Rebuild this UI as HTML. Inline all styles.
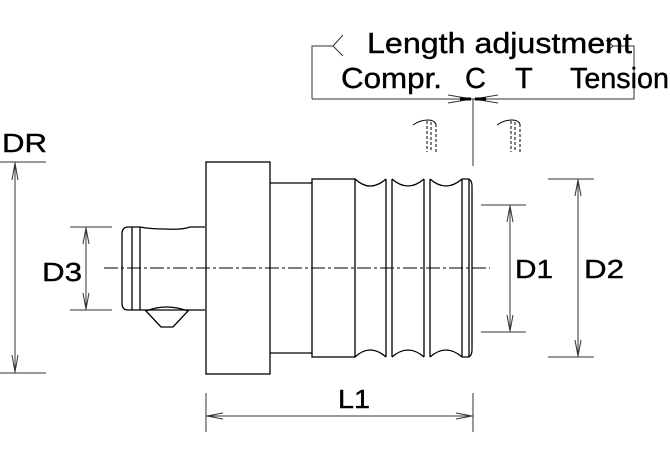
<!DOCTYPE html>
<html><head><meta charset="utf-8"><style>
html,body{margin:0;padding:0;background:#fff;}
svg{display:block;}
text{font-family:"Liberation Sans",Arial,sans-serif;fill:#000;stroke:#000;stroke-width:0.4;}
</style></head><body>
<svg width="670" height="460" viewBox="0 0 670 460" xmlns="http://www.w3.org/2000/svg">
<g fill="none" stroke="#000" stroke-width="1.3">
<rect x="206" y="162" width="64" height="212"/>
<path d="M270 183 H312 M270 353 H312"/>
<rect x="312" y="179" width="43" height="178"/>
<path d="M355 179 Q370 193 386 179 M392 179 Q408 193 424 179 M430 179 Q446 193 462 179"/>
<path d="M355 357 Q370 343 386 357 M392 357 Q408 343 424 357 M430 357 Q446 343 462 357"/>
<path d="M386 179 V357 M392 179 V357 M424 179 V357 M430 179 V357 M462 179 V357 M469 179 V357"/>
<path d="M462 179 H469 Q472 181 472 186 V350 Q472 355 469 357 H462"/>
<path d="M205 227 H190 Q182 230 165 229 Q150 229 140 227 H128 Q122 227 122 234 V303 Q122 310 128 310 H205"/>
<path d="M132 227 V310 M140 227 V310"/>
<path d="M146 311 Q166 303 188 311 L173 327 H161 Z"/>
</g>
<line x1="104" y1="268" x2="490" y2="268" stroke="#000" stroke-width="1" stroke-dasharray="14,3,3,3"/>
<g stroke="#333" stroke-width="1" fill="none">
<path d="M0 162 H46 M0 373 H46 M15 162 V373"/>
<path d="M12 180 L15 163 L18 180 M12 355 L15 372 L18 355"/>
<path d="M70 227 H112 M70 310 H112 M86 227 V310"/>
<path d="M83 244 L86 228 L89 244 M83 293 L86 309 L89 293"/>
<path d="M481 205 H526 M481 332 H526 M510 205 V332"/>
<path d="M507 222 L510 206 L513 222 M507 315 L510 331 L513 315"/>
<path d="M548 179 H594 M548 357 H594 M578 179 V357"/>
<path d="M575 196 L578 180 L581 196 M575 340 L578 356 L581 340"/>
<path d="M206 393 V432 M473 393 V432 M206 416 H473"/>
<path d="M223 413 L207 416 L223 419 M456 413 L472 416 L456 419"/>
<path d="M312 99 V46 H333 M343 35 L333 46 L343 56"/>
<path d="M606 40 L613 46 L606 52 M613 46 H634 V99 H312"/>
<path d="M473 99 V166"/>
<path d="M448 95 L472 99 L448 103 M498 95 L474 99 L498 103"/>
</g>
<path d="M460 99 H471 M475 99 H486" stroke="#000" stroke-width="3"/>
<g stroke="#000" stroke-width="1" fill="none">
<path d="M413 125 Q420 120 428 120 Q434 120 436 124"/>
<path d="M427 121 V152 M431 122 V152 M436 124 V152" stroke-dasharray="3,2"/>
<path d="M497 125 Q504 120 512 120 Q518 120 520 124"/>
<path d="M511 121 V152 M515 122 V152 M520 124 V152" stroke-dasharray="3,2"/>
</g>
<text x="2" y="152" font-size="26" textLength="45" lengthAdjust="spacingAndGlyphs">DR</text>
<text x="42" y="281" font-size="26" textLength="40" lengthAdjust="spacingAndGlyphs">D3</text>
<text x="515" y="278" font-size="26" textLength="38" lengthAdjust="spacingAndGlyphs">D1</text>
<text x="584" y="278" font-size="26" textLength="40" lengthAdjust="spacingAndGlyphs">D2</text>
<text x="338" y="408" font-size="26" textLength="32" lengthAdjust="spacingAndGlyphs">L1</text>
<text x="367" y="53" font-size="29" textLength="265" lengthAdjust="spacingAndGlyphs">Length adjustment</text>
<text x="341" y="88" font-size="29" textLength="101" lengthAdjust="spacingAndGlyphs">Compr.</text>
<text x="465" y="88" font-size="29">C</text>
<text x="515" y="88" font-size="29">T</text>
<text x="570" y="88" font-size="29" textLength="99" lengthAdjust="spacingAndGlyphs">Tension</text>
</svg>
</body></html>
